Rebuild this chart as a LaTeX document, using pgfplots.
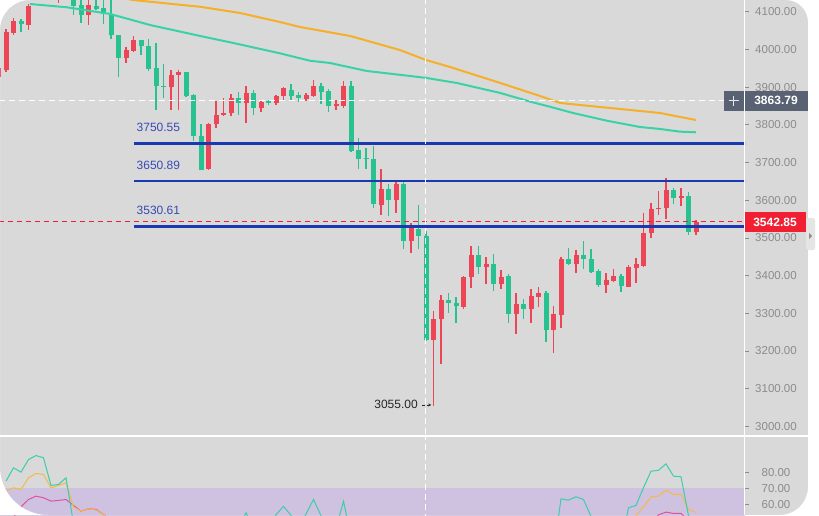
\documentclass[border=0pt]{standalone}
\usepackage{pgfplots}
\pgfplotsset{compat=1.18}
\usepackage{pgfplotstable}
\usepackage{fontspec}
\setmainfont{Liberation Sans}
\usetikzlibrary{arrows.meta}

\definecolor{bg}{RGB}{217,217,217}
\definecolor{upred}{RGB}{236,70,86}
\definecolor{dngreen}{RGB}{40,194,144}
\definecolor{maorange}{RGB}{245,176,40}
\definecolor{mateal}{RGB}{56,210,166}
\definecolor{lvlblue}{RGB}{26,56,176}
\definecolor{lvltext}{RGB}{56,74,180}
\definecolor{axgray}{RGB}{140,140,140}
\definecolor{slate}{RGB}{88,98,114}
\definecolor{pricered}{RGB}{240,32,50}
\definecolor{lav}{RGB}{207,194,224}
\definecolor{rsipink}{RGB}{226,80,160}
\definecolor{rsiorange}{RGB}{245,185,70}
\definecolor{rsiteal}{RGB}{60,205,170}

% up candles (red): index open high low close
\pgfplotstableread{
i o h l c
-1 3927 3960 3915 3951
0 3946 4055 3940 4046
1 4044 4083 4039 4074
3 4066 4121 4052 4116
4 4140 4172 4135 4165
6 4150 4178 4145 4170
7 4140 4165 4124 4160
11 4090 4140 4066 4117
16 3976 4005 3964 3998
17 3995 4036 3992 4024
22 3899 3946 3838 3933
23 3933 3944 3838 3939
27 3683 3805 3680 3803
28 3801 3862 3792 3827
29 3826 3872 3822 3830
30 3830 3882 3822 3871
32 3858 3904 3806 3885
34 3845 3862 3833 3860
36 3858 3880 3853 3877
37 3876 3899 3865 3898
40 3869 3883 3862 3880
41 3877 3920 3875 3904
44 3849 3867 3840 3854
45 3851 3917 3845 3904
50 3586 3683 3562 3630
52 3600 3647 3567 3642
54 3492 3540 3461 3531
57 3229 3306 3055 3286
58 3284 3348 3165 3334
61 3318 3400 3312 3396
62 3395 3478 3368 3454
64 3424 3449 3377 3432
66 3377 3415 3365 3397
68 3299 3355 3244 3324
70 3311 3365 3273 3346
71 3343 3371 3318 3355
73 3256 3320 3194 3297
74 3296 3448 3262 3443
76 3432 3467 3406 3454
80 3374 3406 3353 3387
81 3386 3417 3382 3400
83 3371 3427 3369 3423
84 3420 3447 3381 3430
85 3425 3567 3424 3514
86 3514 3593 3500 3577
87 3576 3624 3562 3580
88 3580 3659 3551 3626
90 3607 3631 3584 3611
92 3515 3548 3507 3542.85
}\uptab

% down candles (green)
\pgfplotstableread{
i o h l c
2 4074 4081 4045 4068
5 4165 4175 4140 4150
8 4160 4168 4133 4140
9 4140 4145 4092 4116
10 4119 4140 4071 4090
12 4116 4140 4105 4108
13 4110 4140 4068 4095
14 4095 4133 4028 4037
15 4037 4037 3926 3977
18 4024 4026 3984 4008
19 4010 4028 3942 3949
20 3951 4017 3838 3902
21 3904 3961 3870 3900
24 3939 3941 3874 3877
25 3880 3882 3756 3770
26 3771 3801 3680 3681
31 3871 3886 3827 3858
33 3885 3893 3827 3845
35 3862 3866 3853 3858
38 3893 3909 3865 3876
39 3878 3887 3860 3872
42 3904 3911 3854 3886
43 3889 3894 3833 3849
46 3904 3915 3727 3730
47 3734 3766 3683 3710
48 3712 3739 3682 3708
49 3710 3745 3580 3589
51 3630 3644 3558 3600
53 3642 3647 3471 3492
55 3524 3586 3471 3505
56 3505 3518 3226 3229
59 3334 3355 3302 3327
60 3328 3342 3273 3319
63 3454 3478 3405 3424
65 3432 3456 3359 3377
67 3399 3403 3275 3299
69 3324 3337 3286 3311
72 3355 3360 3224 3255
75 3443 3472 3427 3432
77 3454 3492 3417 3445
78 3445 3470 3406 3410
79 3412 3417 3371 3374
82 3400 3405 3356 3372
89 3626 3633 3589 3607
91 3611 3621 3507 3515
}\dntab

\pgfplotsset{candle/.style={draw=none, mark=none, forget plot,
  error bars/.cd, y dir=plus, y explicit, error mark=none}}

\begin{document}
\begin{tikzpicture}[x=1pt,y=1pt]
\useasboundingbox (0,0) rectangle (819,515);
\fill[white] (0,0) rectangle (819,515);
\fill[bg] (0,0) rectangle (808,515);

% ---------------- main price axis ----------------
\begin{axis}[at={(0pt,79pt)}, anchor=south west, scale only axis,
  width=745pt, height=436pt,
  xmin=-0.8, xmax=98.533, ymin=2974.5, ymax=4131,
  axis line style={draw=none}, xtick=\empty,
  ytick={3000,3100,3200,3300,3400,3500,3600,3700,3800,3900,4000,4100},
  yticklabels={3000.00,3100.00,3200.00,3300.00,3400.00,3500.00,3600.00,3700.00,3800.00,3900.00,4000.00,4100.00},
  ytick pos=right, yticklabel pos=right, tick align=outside, major tick length=4pt,
  ytick style={draw=axgray, line width=0.6pt},
  yticklabel style={font=\fontsize{11.5}{12}\selectfont, text=axgray, anchor=center, xshift=27pt},
]
% wicks (quiver segments from low to high)
\addplot[draw=upred, line width=1.3pt, forget plot, mark=none,
  quiver={u=0, v=\thisrow{h}-\thisrow{l}, every arrow/.append style={-, draw=upred, line width=1.3pt}}]
  table[x=i, y=l] {\uptab};
\addplot[draw=dngreen, line width=1.3pt, forget plot, mark=none,
  quiver={u=0, v=\thisrow{h}-\thisrow{l}, every arrow/.append style={-, draw=dngreen, line width=1.3pt}}]
  table[x=i, y=l] {\dntab};
% bodies
\addplot[upred, candle, error bar style={color=upred, draw=upred, line width=5pt}]
  table[x=i, y=o, y error plus expr=\thisrow{c}-\thisrow{o}] {\uptab};
\addplot[dngreen, candle, error bar style={color=dngreen, draw=dngreen, line width=5pt}]
  table[x=i, y=c, y error plus expr=\thisrow{o}-\thisrow{c}] {\dntab};

% moving averages
\addplot[mateal, line width=2pt] coordinates {
(3.2,4120.4) (8.1,4111.7) (13.9,4093.9) (19.2,4064.7) (25.9,4035.5) (30.3,4017)
(36.5,3989.7) (40.5,3970) (43.2,3963.9) (48.1,3942.7) (53.9,3929.4) (56.1,3924.1)
(60.1,3910.9) (65.9,3884.4) (69.9,3861.3) (72.5,3848) (75.6,3831.3) (80.1,3810.9)
(84.5,3794.2) (87.2,3788.9) (89.9,3781.7) (92,3780.1)};
\addplot[maorange, line width=2pt] coordinates {
(12,4150) (16.9,4131) (25.9,4113) (31.2,4096.6) (36.5,4072.7) (39.2,4059.4)
(45.9,4035.5) (52.5,3998.4) (56,3971.9) (59.2,3953.3) (65.9,3910.9) (71.2,3876.4)
(73.9,3857.8) (79.2,3847.2) (81.9,3841.9) (87.2,3831.3) (89.9,3820.7) (92,3812.7)};

% level lines
\addplot[lvlblue, line width=2.6pt] coordinates {(17.07,3750.55) (99,3750.55)};
\addplot[lvlblue, line width=2.6pt] coordinates {(17.07,3650.89) (99,3650.89)};
\addplot[lvlblue, line width=2.6pt] coordinates {(17.07,3530.61) (99,3530.61)};
\node[anchor=base west, inner sep=0pt, text=lvltext, font=\fontsize{12}{12}\selectfont]
  at (axis cs:17.4,3750.55) [yshift=12pt] {3750.55};
\node[anchor=base west, inner sep=0pt, text=lvltext, font=\fontsize{12}{12}\selectfont]
  at (axis cs:17.4,3650.89) [yshift=12pt] {3650.89};
\node[anchor=base west, inner sep=0pt, text=lvltext, font=\fontsize{12}{12}\selectfont]
  at (axis cs:17.4,3530.61) [yshift=12pt] {3530.61};

% last price and crosshair
\addplot[draw=pricered, line width=1.3pt, dash pattern=on 5pt off 4pt] coordinates {(-1,3542.85) (99,3542.85)};
\addplot[draw=white, line width=1pt, dash pattern=on 6pt off 4pt] coordinates {(-1,3863.79) (95.73,3863.79)};
\addplot[draw=white, line width=1pt, dash pattern=on 6pt off 4pt] coordinates {(55.93,2900) (55.93,4200)};

% low annotation
\node[anchor=base east, inner sep=0pt, text=black!85, font=\fontsize{12}{12}\selectfont]
  at (axis cs:54.93,3046.2) {3055.00};
\draw[black!85, line width=0.7pt, densely dashed, -{Stealth[length=3pt,width=3pt]}]
  (axis cs:55.45,3056.8) -- (axis cs:56.7,3056.8);
\end{axis}

% ---------------- lower oscillator axis ----------------
\begin{axis}[at={(0pt,0pt)}, anchor=south west, scale only axis,
  width=745pt, height=78pt,
  xmin=-0.8, xmax=98.533, ymin=53.4, ymax=102.2,
  axis line style={draw=none}, xtick=\empty,
  ytick={60,70,80}, yticklabels={60.00,70.00,80.00},
  ytick pos=right, yticklabel pos=right, tick align=outside, major tick length=4pt,
  ytick style={draw=axgray, line width=0.6pt},
  yticklabel style={font=\fontsize{11.5}{12}\selectfont, text=axgray, anchor=center, xshift=27pt},
]
\addplot[fill=lav, draw=none] coordinates {(-1,30) (-1,70) (99,70) (99,30)} -- cycle;
\addplot[draw=white, line width=1pt, dash pattern=on 6pt off 4pt] coordinates {(55.93,0) (55.93,120)};
% pink
\addplot[rsipink, line width=1pt] coordinates {(0,45) (1,52) (2,58.5) (3,63.1) (4,65.2) (5,64.2) (6,62.1) (7,62.5) (8,63.1) (9,59.4) (10,55.8) (11,57.3) (12,56.9) (13,53.7) (14,50)};
\addplot[rsipink, line width=1pt] coordinates {(86,48) (87,53.5) (88,55.2) (89,54.4) (90,54.4) (91,50)};
% orange
\addplot[rsiorange, line width=1pt] coordinates {(0,68.3) (1,70.4) (2,69.4) (3,76.7) (4,79.4) (5,78.8) (6,70.4) (7,71.9) (8,73.5) (9,58.5) (10,55.8) (11,57.3) (12,56.5) (13,53.7) (14,50)};
\addplot[rsiorange, line width=1pt] coordinates {(83,45) (84,53) (85,58.5) (86,64.8) (87,65.2) (88,68.9) (89,66.3) (90,66.3) (91,56.9) (92,55)};
% teal
\addplot[rsiteal, line width=1pt] coordinates {(0,74.6) (1,82.9) (2,80.2) (3,88.1) (4,90.6) (5,89.2) (6,71.9) (7,72.5) (8,76.7) (9,48)};
\addplot[rsiteal, line width=1pt] coordinates {(31,45) (32,54.8) (33,45)};
\addplot[rsiteal, line width=1pt] coordinates {(35,45) (36,53.6) (37,58.8) (38,53.2) (39,45) (40,54) (41,63.1) (42,53) (43,45)};
\addplot[rsiteal, line width=1pt] coordinates {(44,45) (45,62) (46,40)};
\addplot[rsiteal, line width=1pt] coordinates {(73,30) (74,63.5) (75,62.7) (76,64.8) (77,63.1) (78,52.5) (79,45)};
\addplot[rsiteal, line width=1pt] coordinates {(82,35.4) (83,57.9) (84,59.4) (85,70.5) (86,80.8) (87,81.4) (88,85.4) (89,77.7) (90,77.3) (91,53) (92,48)};
\end{axis}

% separators
\draw[white, line width=1.2pt] (0,79) -- (808,79);
\draw[white, line width=1.2pt] (744.5,0) -- (744.5,515);

% crosshair price box
\fill[slate] (724,404.3) rectangle (743.8,424);
\fill[slate] (745.2,404.3) rectangle (808,424);
\draw[white!85!slate, line width=1.2pt] (728.5,414.2) -- (738.5,414.2) (733.5,409.2) -- (733.5,419.2);
\node[text=white, font=\bfseries\fontsize{12}{12}\selectfont, inner sep=0pt] at (776,414.2) {3863.79};

% last price box
\fill[pricered] (744.5,283.3) rectangle (806,303);
\node[text=white, font=\bfseries\fontsize{12}{12}\selectfont, inner sep=0pt] at (775,293) {3542.85};

% rounded frame mask
\fill[white, even odd rule] (0,0) rectangle (819,515)
  (0,48) -- (0,485) arc[start angle=180, end angle=90, radius=30]
  -- (786,515) arc[start angle=90, end angle=0, radius=22]
  -- (808,28) arc[start angle=0, end angle=-90, radius=28]
  -- (48,0) arc[start angle=270, end angle=180, radius=48] -- cycle;

% side tab
\fill[black!10, rounded corners=2pt] (806,265) rectangle (815,297);
\fill[black!45] (809,282) -- (812,279) -- (809,276) -- cycle;
\end{tikzpicture}
\end{document}
